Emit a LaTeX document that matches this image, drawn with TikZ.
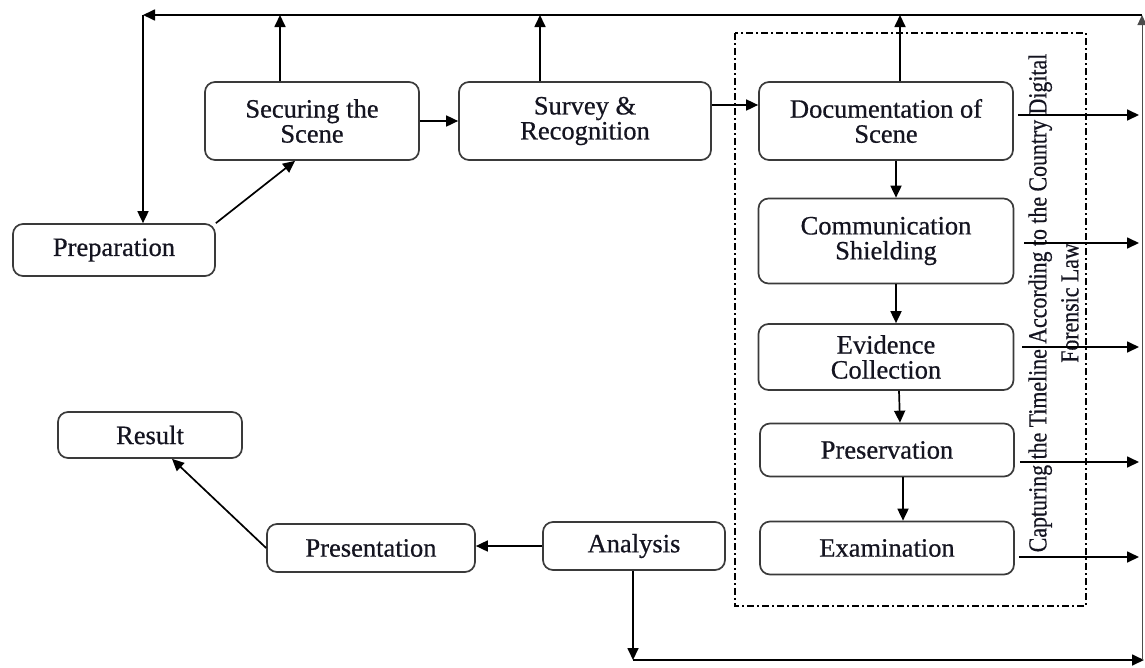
\documentclass[tikz,border=0pt]{standalone}
\usepackage{fontspec}
\setmainfont{Liberation Serif}
\newfontfamily\heavyserif{Liberation Serif}[FakeBold=0.6]
\usetikzlibrary{arrows.meta,calc}
\definecolor{ink}{HTML}{141420}
\definecolor{edge}{HTML}{3A3A3A}
\tikzset{
  box/.style={draw=edge, line width=1.7pt, rounded corners=10pt, fill=white,
    align=center, inner sep=0pt, text=ink,
    font=\heavyserif\fontsize{26.5}{25}\selectfont},
  conn/.style={draw=black, line width=1.7pt, -{Triangle[length=12pt,width=11pt]}},
  frame/.style={draw=black, line width=1.9pt, dash pattern=on 7pt off 3pt on 2pt off 3pt}
}
\begin{document}
\begin{tikzpicture}[x=1pt,y=-1pt]
\useasboundingbox (0,0) rectangle (1145,667);
% dash-dot frame
\draw[frame] (735,33) rectangle (1086,606);
% nodes
\node[box, minimum width=202pt, minimum height=52pt] (prep) at (114,250) {Preparation};
\node[box, minimum width=214pt, minimum height=78pt] (secure) at (312,121) {Securing the\\Scene};
\node[box, minimum width=252pt, minimum height=78pt] (survey) at (585,121) {Survey \&\\Recognition};
\node[box, minimum width=254pt, minimum height=78pt] (doc) at (886,121) {Documentation of\\Scene};
\node[box, minimum width=255pt, minimum height=85pt] (comm) at (886,241) {Communication\\Shielding};
\node[box, minimum width=255pt, minimum height=66pt] (evid) at (886,357) {Evidence\\Collection};
\node[box, minimum width=254pt, minimum height=53pt] (pres) at (887,450) {Preservation};
\node[box, minimum width=254pt, minimum height=53pt] (exam) at (887,548) {Examination};
\node[box, minimum width=182pt, minimum height=48pt] (ana) at (634,546) {Analysis};
\node[box, minimum width=208pt, minimum height=48pt] (presn) at (371,548) {Presentation};
\node[box, minimum width=184pt, minimum height=46pt] (res) at (150,435) {Result};
% rotated label
\node[rotate=90, inner sep=0pt, text=ink] (cap) at (1056,303)
  {\scalebox{0.84}[1]{\heavyserif\fontsize{26}{32}\selectfont\begin{tabular}{@{}c@{}}Capturing the Timeline According to the Country Digital\\ Forensic Law\end{tabular}}};
% outer loop coordinates
\coordinate (tl) at (143,15);
\coordinate (tr) at (1142,15);
\coordinate (br) at (1142,660);
\coordinate (bl) at (633,660);
\coordinate (rx) at (1139,0);
\coordinate (r1) at ($(doc.east)+(4,-6)$);
\coordinate (r2) at ($(comm.east)+(10,2)$);
\coordinate (r3) at ($(evid.east)+(8,-10)$);
\coordinate (r4) at ($(pres.east)+(5,12)$);
\coordinate (r5) at ($(exam.east)+(4,9)$);
% main flow
\draw[conn] (prep.north east) -- ([xshift=-17pt]secure.south);
\draw[conn] (secure.east) -- (survey.west);
\draw[conn] ($(survey.east)+(0,-16)$) -- ($(doc.west)+(0,-16)$);
\draw[conn] ([xshift=10pt]doc.south) -- ([xshift=10pt]comm.north);
\draw[conn] ([xshift=10pt]comm.south) -- ([xshift=10pt]evid.north);
\draw[conn] ([xshift=13pt]evid.south) -- ([xshift=13pt]pres.north);
\draw[conn] ([xshift=16pt]pres.south) -- ([xshift=16pt]exam.north);
\draw[conn] (ana.west) -- (ana.west -| presn.east);
\draw[conn] (presn.west) -- ([xshift=22pt]res.south);
\draw[conn] (ana.south -| bl) -- (bl);
% up arrows to top line
\draw[conn] ([xshift=-32pt]secure.north) -- ([xshift=-32pt]secure.north |- tl);
\draw[conn] ([xshift=-45pt]survey.north) -- ([xshift=-45pt]survey.north |- tl);
\draw[conn] ([xshift=14pt]doc.north) -- ([xshift=14pt]doc.north |- tl);
% right arrows
\draw[conn] (r1) -- (r1 -| rx);
\draw[conn] (r2) -- (r2 -| rx);
\draw[conn] (r3) -- (r3 -| rx);
\draw[conn] (r4) -- (r4 -| rx);
\draw[conn] (r5) -- (r5 -| rx);
% loop
\draw[conn] (bl) -- ([xshift=2pt]br);
\draw[draw=black!70, line width=1pt, -{Triangle[length=10pt,width=9pt]}] (br) -- (tr);
\draw[conn] (tr) -- (tl);
\draw[conn] (tl) -- (tl |- prep.north);
\end{tikzpicture}
\end{document}
